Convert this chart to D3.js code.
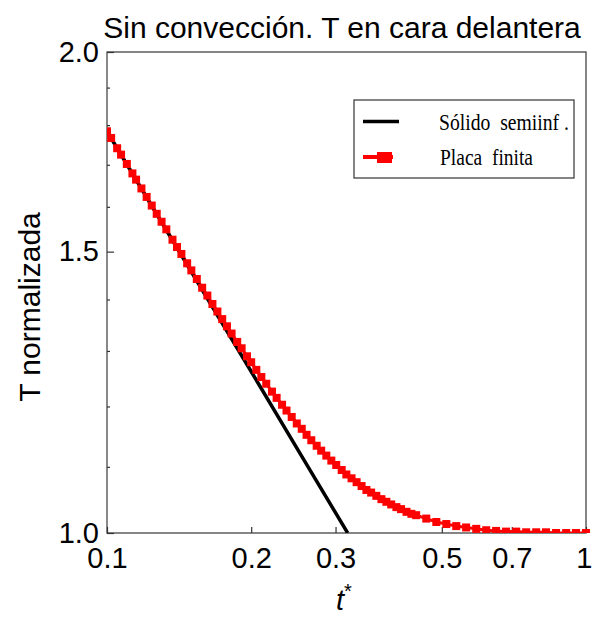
<!DOCTYPE html>
<html>
<head>
<meta charset="utf-8">
<script src="https://cdn.jsdelivr.net/npm/d3@7"></script>
<style>
  html, body { margin: 0; padding: 0; background: #fff; }
  svg { display: block; }
  text { fill: #000; }
</style>
</head>
<body>
<svg id="chart" width="592" height="619"></svg>
<script>
// Dimensionless time t* and normalised front-face temperature
const tSemi = [0.10, 0.15, 0.20, 0.25, 0.318];
const tempSemi = [1.784, 1.457, 1.262, 1.128, 1.000];

const tPlate = [0.100, 0.102, 0.105, 0.107, 0.110, 0.113, 0.115, 0.118, 0.121, 0.124,
  0.127, 0.130, 0.133, 0.137, 0.140, 0.143, 0.147, 0.150, 0.154, 0.158,
  0.162, 0.166, 0.170, 0.174, 0.178, 0.182, 0.187, 0.191, 0.196, 0.200,
  0.205, 0.210, 0.215, 0.221, 0.226, 0.232, 0.237, 0.243, 0.249, 0.255,
  0.261, 0.267, 0.274, 0.280, 0.287, 0.294, 0.301, 0.309, 0.316, 0.324,
  0.332, 0.340, 0.348, 0.356, 0.365, 0.374, 0.383, 0.392, 0.402, 0.411,
  0.422, 0.432, 0.442, 0.464, 0.487, 0.511, 0.536, 0.562, 0.590, 0.619,
  0.649, 0.681, 0.715, 0.750, 0.787, 0.825, 0.866, 0.909, 0.953, 1.000];
const tempPlate = [1.784, 1.767, 1.741, 1.725, 1.702, 1.679, 1.664, 1.643, 1.623, 1.603,
  1.584, 1.566, 1.549, 1.526, 1.510, 1.495, 1.475, 1.460, 1.442, 1.424,
  1.408, 1.391, 1.376, 1.361, 1.347, 1.333, 1.317, 1.305, 1.290, 1.279,
  1.265, 1.252, 1.240, 1.226, 1.215, 1.203, 1.193, 1.182, 1.171, 1.162,
  1.152, 1.143, 1.134, 1.126, 1.118, 1.110, 1.103, 1.095, 1.088, 1.082,
  1.076, 1.070, 1.064, 1.060, 1.055, 1.050, 1.046, 1.042, 1.038, 1.035,
  1.031, 1.028, 1.026, 1.021, 1.016, 1.013, 1.010, 1.008, 1.006, 1.004,
  1.003, 1.002, 1.002, 1.001, 1.001, 1.001, 1.000, 1.000, 1.000, 1.000];

const xTicks = [0.1, 0.2, 0.3, 0.5, 0.7, 1];
const xTickLabels = ["0.1", "0.2", "0.3", "0.5", "0.7", "1"];
const yTicks = [1.0, 1.5, 2.0];
const yTickLabels = ["1.0", "1.5", "2.0"];
const yMinorTicks = [1.1, 1.2, 1.3, 1.4, 1.6, 1.7, 1.8, 1.9];

const seriesNames = ["Sólido  semiinf .", "Placa  finita"];

const svg = d3.select("#chart");
const m = { left: 107, right: 586, top: 52, bottom: 533 };

const x = d3.scaleLog().domain([0.1, 1]).range([m.left, m.right]);
const y = d3.scaleLog().domain([1, 2]).range([m.bottom, m.top]);

const sans = "'Liberation Sans', Arial, Helvetica, sans-serif";
const serif = "'Liberation Serif', 'Times New Roman', serif";

// Title
svg.append("text")
  .attr("x", 342).attr("y", 38)
  .attr("text-anchor", "middle")
  .style("font-family", sans).style("font-size", "30px")
  .text("Sin convección. T en cara delantera");

// Clip for plotted data
svg.append("clipPath").attr("id", "plotclip")
  .append("rect").attr("x", m.left).attr("y", m.top - 6)
  .attr("width", m.right - m.left + 6).attr("height", m.bottom - m.top + 6);

// Frame
svg.append("rect")
  .attr("x", m.left).attr("y", m.top)
  .attr("width", m.right - m.left).attr("height", m.bottom - m.top)
  .attr("fill", "none").attr("stroke", "#444").attr("stroke-width", 1.3);
svg.append("line")
  .attr("x1", m.left).attr("x2", m.left).attr("y1", m.top).attr("y2", m.bottom)
  .attr("stroke", "#888").attr("stroke-width", 2);

// X axis
const xAxis = d3.axisBottom(x)
  .tickValues(xTicks)
  .tickFormat((d, i) => xTickLabels[i])
  .tickSize(-6).tickPadding(14);
const gx = svg.append("g").attr("transform", `translate(0,${m.bottom})`).call(xAxis);
gx.select(".domain").remove();
gx.selectAll(".tick line").attr("stroke", "#333").attr("stroke-width", 1.2);
gx.selectAll(".tick text")
  .style("font-family", sans).style("font-size", "29px").attr("fill", "#000");
// last label sits against the right edge
gx.selectAll(".tick text").filter((d, i) => i === xTicks.length - 1)
  .attr("text-anchor", "end").attr("x", 6);

// Y axis: major ticks with labels, minor ticks without
const yAxis = d3.axisLeft(y)
  .tickValues(yTicks)
  .tickFormat((d, i) => yTickLabels[i])
  .tickSize(-7).tickPadding(8);
const gy = svg.append("g").attr("transform", `translate(${m.left},0)`).call(yAxis);
gy.select(".domain").remove();
gy.selectAll(".tick line").attr("stroke", "#333").attr("stroke-width", 1.2);
gy.selectAll(".tick text")
  .style("font-family", sans).style("font-size", "29px").attr("fill", "#000");

const yMinor = d3.axisLeft(y).tickValues(yMinorTicks).tickFormat("").tickSize(-3);
const gym = svg.append("g").attr("transform", `translate(${m.left},0)`).call(yMinor);
gym.select(".domain").remove();
gym.selectAll(".tick line").attr("stroke", "#333").attr("stroke-width", 1.2);

// Axis titles
const xt = svg.append("text")
  .attr("x", 336).attr("y", 610)
  .style("font-family", sans).style("font-size", "29px");
xt.append("tspan").style("font-style", "italic").text("t");
xt.append("tspan").attr("dy", -12).style("font-size", "20px").text("*");

svg.append("text")
  .attr("transform", "translate(40,307) rotate(-90)")
  .attr("text-anchor", "middle")
  .style("font-family", sans).style("font-size", "30px")
  .text("T normalizada");

// Data
const plotG = svg.append("g").attr("clip-path", "url(#plotclip)");
const plateData = tPlate.map((t, i) => ({ t, v: tempPlate[i] }));
const semiData = tSemi.map((t, i) => ({ t, v: tempSemi[i] }));
const line = d3.line().x(d => x(d.t)).y(d => y(d.v));

plotG.append("path").datum(plateData)
  .attr("d", line).attr("fill", "none")
  .attr("stroke", "#ff0000").attr("stroke-width", 3);

plotG.append("path").datum(semiData)
  .attr("d", line).attr("fill", "none")
  .attr("stroke", "#000").attr("stroke-width", 3.5);

const mw = 8, mh = 8;
plotG.selectAll("rect.mk").data(plateData).enter().append("rect")
  .attr("class", "mk")
  .attr("x", d => x(d.t) - mw / 2).attr("y", d => y(d.v) - mh / 2)
  .attr("width", mw).attr("height", mh)
  .attr("fill", "#ff0000");

// Legend
const lg = svg.append("g");
lg.append("rect")
  .attr("x", 354).attr("y", 100).attr("width", 220).attr("height", 78)
  .attr("fill", "#fff").attr("stroke", "#333").attr("stroke-width", 1.2);
lg.append("line")
  .attr("x1", 363).attr("x2", 399).attr("y1", 121.5).attr("y2", 121.5)
  .attr("stroke", "#000").attr("stroke-width", 3.5);
lg.append("line")
  .attr("x1", 363).attr("x2", 393).attr("y1", 157).attr("y2", 157)
  .attr("stroke", "#ff0000").attr("stroke-width", 4);
lg.append("rect")
  .attr("x", 377).attr("y", 152).attr("width", 15).attr("height", 11)
  .attr("fill", "#ff0000");
lg.append("text")
  .attr("x", 439).attr("y", 130)
  .attr("textLength", 130).attr("lengthAdjust", "spacingAndGlyphs")
  .style("white-space", "pre")
  .style("font-family", serif).style("font-size", "23px")
  .text(seriesNames[0]);
lg.append("text")
  .attr("x", 440).attr("y", 165)
  .attr("textLength", 93).attr("lengthAdjust", "spacingAndGlyphs")
  .style("white-space", "pre")
  .style("font-family", serif).style("font-size", "23px")
  .text(seriesNames[1]);
</script>
</body>
</html>
